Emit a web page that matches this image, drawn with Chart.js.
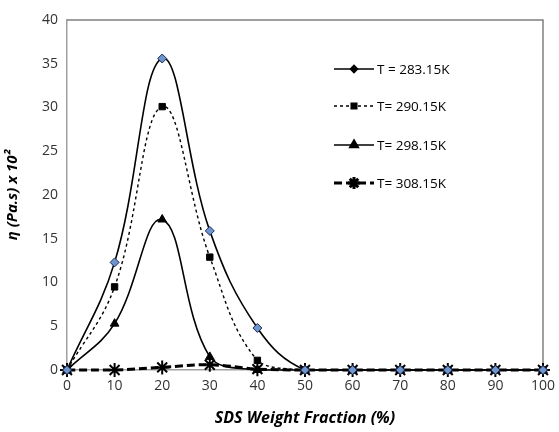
<!DOCTYPE html>
<html>
<head>
<meta charset="utf-8">
<script src="https://cdn.jsdelivr.net/npm/chart.js@4"></script>
<style>
  html, body { margin: 0; padding: 0; background: #fff; }
  #wrap { width: 559px; height: 432px; }
</style>
</head>
<body>
<div id="wrap"><canvas id="viscChart" width="559" height="432"></canvas></div>
<script>
// データ (SDS 重量分率 % に対する粘度)
const sdsFraction = [0, 10, 20, 30, 40, 50, 60, 70, 80, 90, 100];
const visc283 = [0, 12.3, 35.6, 15.9, 4.8, 0, 0, 0, 0, 0, 0];
const visc290 = [0, 9.5, 30.1, 12.9, 1.1, 0, 0, 0, 0, 0, 0];
const visc298 = [0, 5.3, 17.2, 1.5, 0, 0, 0, 0, 0, 0, 0];
const visc308 = [0, 0, 0.3, 0.6, 0.1, 0, 0, 0, 0, 0, 0];
const seriesLabels = ['T = 283.15K', 'T= 290.15K', 'T= 298.15K', 'T= 308.15K'];
const yTicks = [0, 5, 10, 15, 20, 25, 30, 35, 40];

const FONT = "'Open Sans', 'Liberation Sans', sans-serif";

function toPoints(vals) {
    return sdsFraction.map((x, i) => ({ x: x, y: vals[i] }));
}

// 凡例をプロット領域内に描く
const insideLegend = {
    id: 'insideLegend',
    afterDraw(chart) {
        const ctx = chart.ctx;
        const rows = [69, 106, 145, 183];
        chart.data.datasets.forEach((ds, i) => {
            const y = rows[i];
            ctx.save();
            ctx.strokeStyle = '#000';
            ctx.lineWidth = ds.borderWidth;
            ctx.setLineDash(ds.borderDash || []);
            ctx.beginPath();
            ctx.moveTo(334, y);
            ctx.lineTo(374, y);
            ctx.stroke();
            ctx.setLineDash([]);
            Chart.helpers.drawPoint(ctx, {
                pointStyle: ds.pointStyle,
                radius: ds.legendRadius,
                borderWidth: ds.pointBorderWidth
            }, 354, y);
            ctx.fillStyle = '#000';
            ctx.strokeStyle = '#000';
            ctx.fill();
            ctx.restore();
            ctx.save();
            ctx.fillStyle = '#000';
            ctx.font = "13.5px " + FONT;
            ctx.textBaseline = 'middle';
            ctx.fillText(ds.label, 377, y + 1);
            ctx.restore();
        });
    }
};

// プロット領域の枠
const plotFrame = {
    id: 'plotFrame',
    beforeDatasetsDraw(chart) {
        const a = chart.chartArea;
        const ctx = chart.ctx;
        ctx.save();
        ctx.strokeStyle = '#808080';
        ctx.lineWidth = 1.5;
        ctx.beginPath();
        ctx.moveTo(a.left, a.top);
        ctx.lineTo(a.right, a.top);
        ctx.lineTo(a.right, a.bottom);
        ctx.stroke();
        ctx.restore();
    }
};

const ctx = document.getElementById('viscChart').getContext('2d');
new Chart(ctx, {
    type: 'line',
    data: {
        datasets: [
            {
                label: seriesLabels[0],
                data: toPoints(visc283),
                borderColor: '#000',
                borderWidth: 1.6,
                pointStyle: 'rectRot',
                pointRadius: 4.5,
                legendRadius: 3.5,
                pointBackgroundColor: '#6f95cf',
                pointBorderColor: '#1a2a55',
                pointBorderWidth: 1
            },
            {
                label: seriesLabels[1],
                data: toPoints(visc290),
                borderColor: '#000',
                borderWidth: 1.4,
                borderDash: [3, 3],
                pointStyle: 'rect',
                pointRadius: 4.5,
                legendRadius: 4,
                pointBackgroundColor: '#000',
                pointBorderColor: '#000',
                pointBorderWidth: 1
            },
            {
                label: seriesLabels[2],
                data: toPoints(visc298),
                borderColor: '#000',
                borderWidth: 1.6,
                pointStyle: 'triangle',
                pointRadius: 5,
                legendRadius: 5,
                pointBackgroundColor: '#000',
                pointBorderColor: '#000',
                pointBorderWidth: 1
            },
            {
                label: seriesLabels[3],
                data: toPoints(visc308),
                borderColor: '#000',
                borderWidth: 3,
                borderDash: [8, 4],
                pointStyle: 'star',
                pointRadius: 7,
                legendRadius: 6,
                pointBackgroundColor: '#000',
                pointBorderColor: '#000',
                pointBorderWidth: 2
            }
        ]
    },
    options: {
        responsive: false,
        animation: false,
        layout: { padding: { top: 20, right: 11, left: 0, bottom: 0 } },
        elements: { line: { tension: 0.4, fill: false } },
        plugins: {
            legend: { display: false },
            tooltip: { enabled: false }
        },
        datasets: { line: { clip: false } },
        scales: {
            x: {
                type: 'linear',
                min: 0,
                max: 100,
                ticks: { stepSize: 10, color: '#333', font: { family: FONT, size: 14 }, padding: 4 },
                grid: { display: false, drawTicks: true, tickLength: 4 },
                border: { color: '#a0a0a0', width: 1.5 },
                title: {
                    display: true,
                    text: 'SDS Weight Fraction (%)',
                    color: '#000',
                    font: { family: FONT, size: 16, weight: 'bold', style: 'italic' },
                    padding: { top: 1 }
                },
                afterFit(s) { s.height = 62; }
            },
            y: {
                min: 0,
                max: 40,
                afterBuildTicks(s) { s.ticks = yTicks.map(v => ({ value: v })); },
                ticks: { color: '#333', font: { family: FONT, size: 14 }, padding: 4 },
                grid: { display: false, drawTicks: true, tickLength: 5 },
                border: { color: '#a0a0a0', width: 1.5 },
                title: {
                    display: true,
                    text: 'η (Pa.s) x 10²',
                    color: '#000',
                    font: { family: FONT, size: 15, weight: 'bold', style: 'italic' },
                    padding: { bottom: 6 }
                },
                afterFit(s) { s.width = 67; }
            }
        }
    },
    plugins: [plotFrame, insideLegend]
});
</script>
</body>
</html>
